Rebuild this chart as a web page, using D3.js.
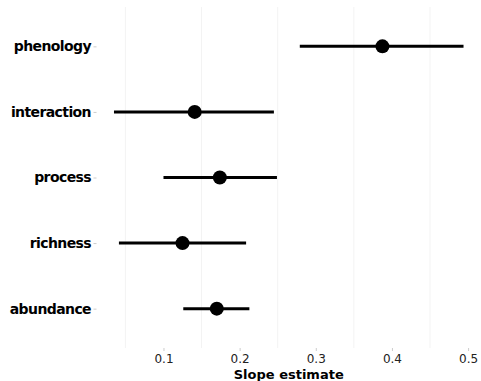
<!DOCTYPE html>
<html>
<head>
<meta charset="utf-8">
<script src="https://cdn.jsdelivr.net/npm/d3@7"></script>
<style>
  html, body { margin: 0; padding: 0; background: #fff; }
  svg { display: block; }
</style>
</head>
<body>
<svg id="chart" width="481" height="381"></svg>
<script>
// Slope estimates with confidence intervals, one row per response type
const categories = ["phenology", "interaction", "process", "richness", "abundance"];
const estimates  = [0.3875, 0.141, 0.174, 0.125, 0.170];
const lowers     = [0.279, 0.035, 0.100, 0.0415, 0.126];
const uppers     = [0.494, 0.245, 0.249, 0.2085, 0.2128];
const xTicks     = [0.1, 0.2, 0.3, 0.4, 0.5];
const xMinor     = [0.05, 0.15, 0.25, 0.35, 0.45];
const xTitle     = "Slope estimate";

const svg = d3.select("#chart");
const panel = { left: 96.5, right: 481, top: 7, bottom: 348 };

// continuous x with 5% expansion either side of the data
const lo = d3.min(lowers), hi = d3.max(uppers);
const pad = (hi - lo) * 0.05;
const x = d3.scaleLinear().domain([lo - pad, hi + pad]).range([panel.left, panel.right]);

// discrete y with 0.6 expansion
const y = d3.scalePoint().domain(categories).range([panel.top, panel.bottom]).padding(0.6);

// minor grid lines
svg.append("g").selectAll("line").data(xMinor).join("line")
  .attr("x1", d => x(d)).attr("x2", d => x(d))
  .attr("y1", panel.top).attr("y2", panel.bottom)
  .attr("stroke", "#f3f3f3").attr("stroke-width", 1);

// x axis (ticks + labels)
const xAxis = d3.axisBottom(x).tickValues(xTicks).tickSize(3).tickPadding(3)
  .tickFormat(d3.format(".1f"));
const gx = svg.append("g").attr("transform", `translate(0,${panel.bottom})`).call(xAxis);
gx.select(".domain").remove();
gx.selectAll(".tick line").attr("stroke", "#cccccc").attr("stroke-width", 1);
gx.selectAll(".tick text")
  .attr("font-family", "DejaVu Sans").attr("font-size", 12).attr("fill", "#222");

// y axis
const yAxis = d3.axisLeft(y).tickSize(3).tickPadding(2.5);
const gy = svg.append("g").attr("transform", `translate(${panel.left},0)`).call(yAxis);
gy.select(".domain").remove();
gy.selectAll(".tick line").attr("stroke", "#cccccc").attr("stroke-width", 1);
gy.selectAll(".tick text")
  .attr("font-family", "DejaVu Sans").attr("font-weight", "bold")
  .attr("font-size", 14).attr("letter-spacing", -0.6).attr("fill", "#000");

// axis title
svg.append("text")
  .attr("x", (panel.left + panel.right) / 2).attr("y", 378.5)
  .attr("text-anchor", "middle")
  .attr("font-family", "DejaVu Sans").attr("font-weight", "bold").attr("font-size", 13)
  .attr("fill", "#000").text(xTitle);

// interval lines
const rows = categories.map((c, i) => ({ c, est: estimates[i], lo: lowers[i], hi: uppers[i] }));
svg.append("g").selectAll("line").data(rows).join("line")
  .attr("x1", d => x(d.lo)).attr("x2", d => x(d.hi))
  .attr("y1", d => y(d.c)).attr("y2", d => y(d.c))
  .attr("stroke", "#000").attr("stroke-width", 3);

// point estimates
svg.append("g").selectAll("circle").data(rows).join("circle")
  .attr("cx", d => x(d.est)).attr("cy", d => y(d.c)).attr("r", 7)
  .attr("fill", "#000");
</script>
</body>
</html>
